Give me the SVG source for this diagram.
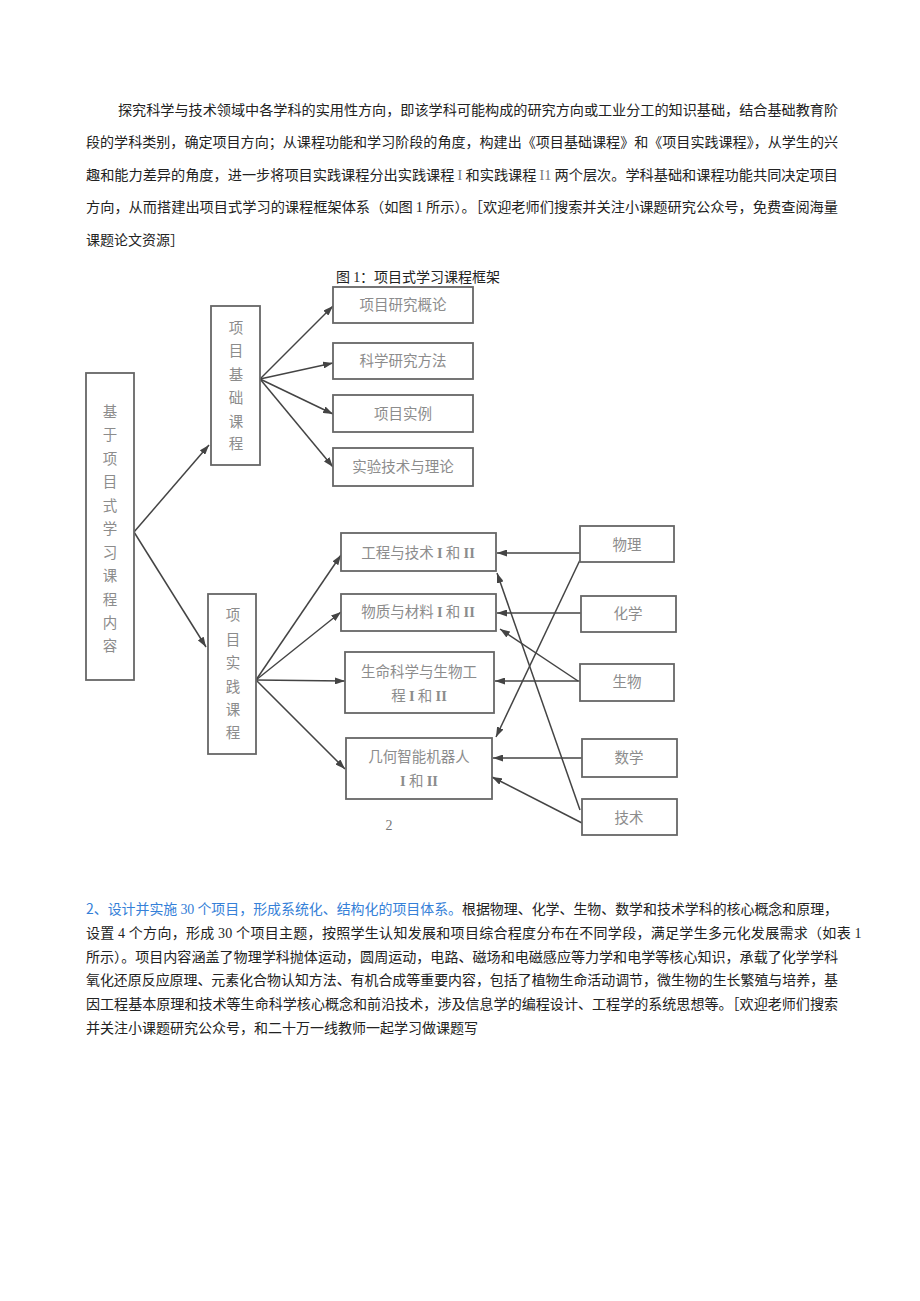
<svg xmlns="http://www.w3.org/2000/svg" width="920" height="1301" viewBox="0 0 920 1301">
<style>
.p{font-family:"Noto Sans CJK SC","Liberation Sans",sans-serif;font-size:14px;fill:#222}
.s{font-family:"Liberation Serif",serif}
.blue{fill:#3580d8}
.box{fill:#fff;stroke:#666;stroke-width:1.8}
.bt{font-family:"Noto Sans CJK SC","Liberation Sans",sans-serif;font-size:14.5px;fill:#8c8c8c;text-anchor:middle}
.bs{font-family:"Liberation Serif",serif;font-weight:bold}
.cap{font-family:"Noto Sans CJK SC","Liberation Sans",sans-serif;font-size:14px;fill:#222}
.ln{stroke:#444;stroke-width:1.5;fill:none;marker-end:url(#ah)}
</style>
<defs>
<marker id="ah" markerUnits="userSpaceOnUse" markerWidth="10" markerHeight="7" refX="10" refY="3.5" orient="auto">
<path d="M0,0 L10,3.5 L0,7 z" fill="#444"/>
</marker>
</defs>
<rect width="920" height="1301" fill="#fff"/>

<g id="para1" class="p">
<text x="118" y="115" textLength="720" lengthAdjust="spacingAndGlyphs">探究科学与技术领域中各学科的实用性方向，即该学科可能构成的研究方向或工业分工的知识基础，结合基础教育阶</text>
<text x="86" y="147" textLength="752" lengthAdjust="spacingAndGlyphs">段的学科类别，确定项目方向；从课程功能和学习阶段的角度，构建出《项目基础课程》和《项目实践课程》，从学生的兴</text>
<text x="86" y="180" textLength="752" lengthAdjust="spacingAndGlyphs">趣和能力差异的角度，进一步将项目实践课程分出实践课程 <tspan class="s" fill="#777">I</tspan> 和实践课程 <tspan class="s" fill="#777">I1</tspan> 两个层次。学科基础和课程功能共同决定项目</text>
<text x="86" y="212" textLength="752" lengthAdjust="spacingAndGlyphs">方向，从而搭建出项目式学习的课程框架体系（如图 <tspan class="s">1</tspan> 所示）。［欢迎老师们搜索并关注小课题研究公众号，免费查阅海量</text>
<text x="86" y="245">课题论文资源］</text>
</g>

<text id="caption" class="cap" x="336" y="282" textLength="164" lengthAdjust="spacingAndGlyphs">图 <tspan class="s">1</tspan>：项目式学习课程框架</text>

<g id="connectors">
<line class="ln" x1="134" y1="532" x2="209" y2="445"/>
<line class="ln" x1="134" y1="532" x2="206" y2="647"/>
<line class="ln" x1="260" y1="379" x2="333" y2="306"/>
<line class="ln" x1="260" y1="379" x2="333" y2="363"/>
<line class="ln" x1="260" y1="379" x2="333" y2="414"/>
<line class="ln" x1="260" y1="379" x2="333" y2="467"/>
<line class="ln" x1="256" y1="680" x2="341" y2="555"/>
<line class="ln" x1="256" y1="680" x2="341" y2="612"/>
<line class="ln" x1="256" y1="680" x2="345" y2="681"/>
<line class="ln" x1="256" y1="680" x2="345" y2="769"/>
<line class="ln" x1="580" y1="553" x2="497" y2="553"/>
<line class="ln" x1="580" y1="560" x2="496" y2="737"/>
<line class="ln" x1="581" y1="613" x2="497" y2="613"/>
<line class="ln" x1="580" y1="681" x2="495" y2="681"/>
<line class="ln" x1="578" y1="681" x2="500" y2="629"/>
<line class="ln" x1="582" y1="758" x2="493" y2="758"/>
<line class="ln" x1="582" y1="823" x2="492" y2="777"/>
<line class="ln" x1="580" y1="810" x2="497" y2="573"/>
</g>

<g id="root">
<rect class="box" x="86" y="373" width="48" height="307"/>
<text class="bt" x="110" y="417">基</text>
<text class="bt" x="110" y="440">于</text>
<text class="bt" x="110" y="464">项</text>
<text class="bt" x="110" y="487">目</text>
<text class="bt" x="110" y="511">式</text>
<text class="bt" x="110" y="534">学</text>
<text class="bt" x="110" y="558">习</text>
<text class="bt" x="110" y="581">课</text>
<text class="bt" x="110" y="605">程</text>
<text class="bt" x="110" y="628">内</text>
<text class="bt" x="110" y="651">容</text>
</g>

<g id="basic">
<rect class="box" x="211" y="306" width="49" height="159"/>
<text class="bt" x="236" y="333">项</text>
<text class="bt" x="236" y="356">目</text>
<text class="bt" x="236" y="380">基</text>
<text class="bt" x="236" y="403">础</text>
<text class="bt" x="236" y="427">课</text>
<text class="bt" x="236" y="449">程</text>
</g>

<g id="practice">
<rect class="box" x="208" y="594" width="48" height="160"/>
<text class="bt" x="233" y="620">项</text>
<text class="bt" x="233" y="645">目</text>
<text class="bt" x="233" y="668">实</text>
<text class="bt" x="233" y="692">践</text>
<text class="bt" x="233" y="715">课</text>
<text class="bt" x="233" y="738">程</text>
</g>

<g id="b1"><rect class="box" x="333" y="287" width="140" height="36"/><text class="bt" x="403" y="310">项目研究概论</text></g>
<g id="b2"><rect class="box" x="333" y="343" width="140" height="36"/><text class="bt" x="403" y="366">科学研究方法</text></g>
<g id="b3"><rect class="box" x="333" y="395" width="140" height="37"/><text class="bt" x="403" y="419">项目实例</text></g>
<g id="b4"><rect class="box" x="333" y="448" width="140" height="38"/><text class="bt" x="403" y="472">实验技术与理论</text></g>

<g id="p1"><rect class="box" x="341" y="533" width="155" height="38"/><text class="bt" x="418" y="558">工程与技术 <tspan class="bs">I</tspan> 和 <tspan class="bs">II</tspan></text></g>
<g id="p2"><rect class="box" x="341" y="594" width="155" height="37"/><text class="bt" x="418" y="617">物质与材料 <tspan class="bs">I</tspan> 和 <tspan class="bs">II</tspan></text></g>
<g id="p3"><rect class="box" x="345" y="652" width="149" height="61"/><text class="bt" x="419" y="677">生命科学与生物工</text><text class="bt" x="419" y="701">程 <tspan class="bs">I</tspan> 和 <tspan class="bs">II</tspan></text></g>
<g id="p4"><rect class="box" x="346" y="738" width="146" height="61"/><text class="bt" x="419" y="762">几何智能机器人</text><text class="bt" x="419" y="786"><tspan class="bs">I</tspan> 和 <tspan class="bs">II</tspan></text></g>

<g id="s1"><rect class="box" x="580" y="526" width="94" height="36"/><text class="bt" x="627" y="550">物理</text></g>
<g id="s2"><rect class="box" x="581" y="596" width="95" height="36"/><text class="bt" x="628" y="619">化学</text></g>
<g id="s3"><rect class="box" x="580" y="664" width="94" height="37"/><text class="bt" x="627" y="687">生物</text></g>
<g id="s4"><rect class="box" x="582" y="739" width="95" height="38"/><text class="bt" x="629" y="763">数学</text></g>
<g id="s5"><rect class="box" x="582" y="799" width="95" height="36"/><text class="bt" x="629" y="823">技术</text></g>

<text id="pagenum" x="389" y="830" font-family="Liberation Serif,serif" font-size="14" fill="#777" text-anchor="middle">2</text>

<g id="para2" class="p">
<text x="86" y="914" textLength="752" lengthAdjust="spacingAndGlyphs"><tspan class="blue">2、设计并实施 <tspan class="s">30</tspan> 个项目，形成系统化、结构化的项目体系。</tspan>根据物理、化学、生物、数学和技术学科的核心概念和原理，</text>
<text x="86" y="938" letter-spacing="0.3">设置 <tspan class="s">4</tspan> 个方向，形成 <tspan class="s">30</tspan> 个项目主题，按照学生认知发展和项目综合程度分布在不同学段，满足学生多元化发展需求（如表 <tspan class="s">1</tspan></text>
<text x="86" y="962" textLength="752" lengthAdjust="spacingAndGlyphs">所示）。项目内容涵盖了物理学科抛体运动，圆周运动，电路、磁场和电磁感应等力学和电学等核心知识，承载了化学学科</text>
<text x="86" y="985" textLength="752" lengthAdjust="spacingAndGlyphs">氧化还原反应原理、元素化合物认知方法、有机合成等重要内容，包括了植物生命活动调节，微生物的生长繁殖与培养，基</text>
<text x="86" y="1009" textLength="752" lengthAdjust="spacingAndGlyphs">因工程基本原理和技术等生命科学核心概念和前沿技术，涉及信息学的编程设计、工程学的系统思想等。［欢迎老师们搜索</text>
<text x="86" y="1033">并关注小课题研究公众号，和二十万一线教师一起学习做课题写</text>
</g>
</svg>
